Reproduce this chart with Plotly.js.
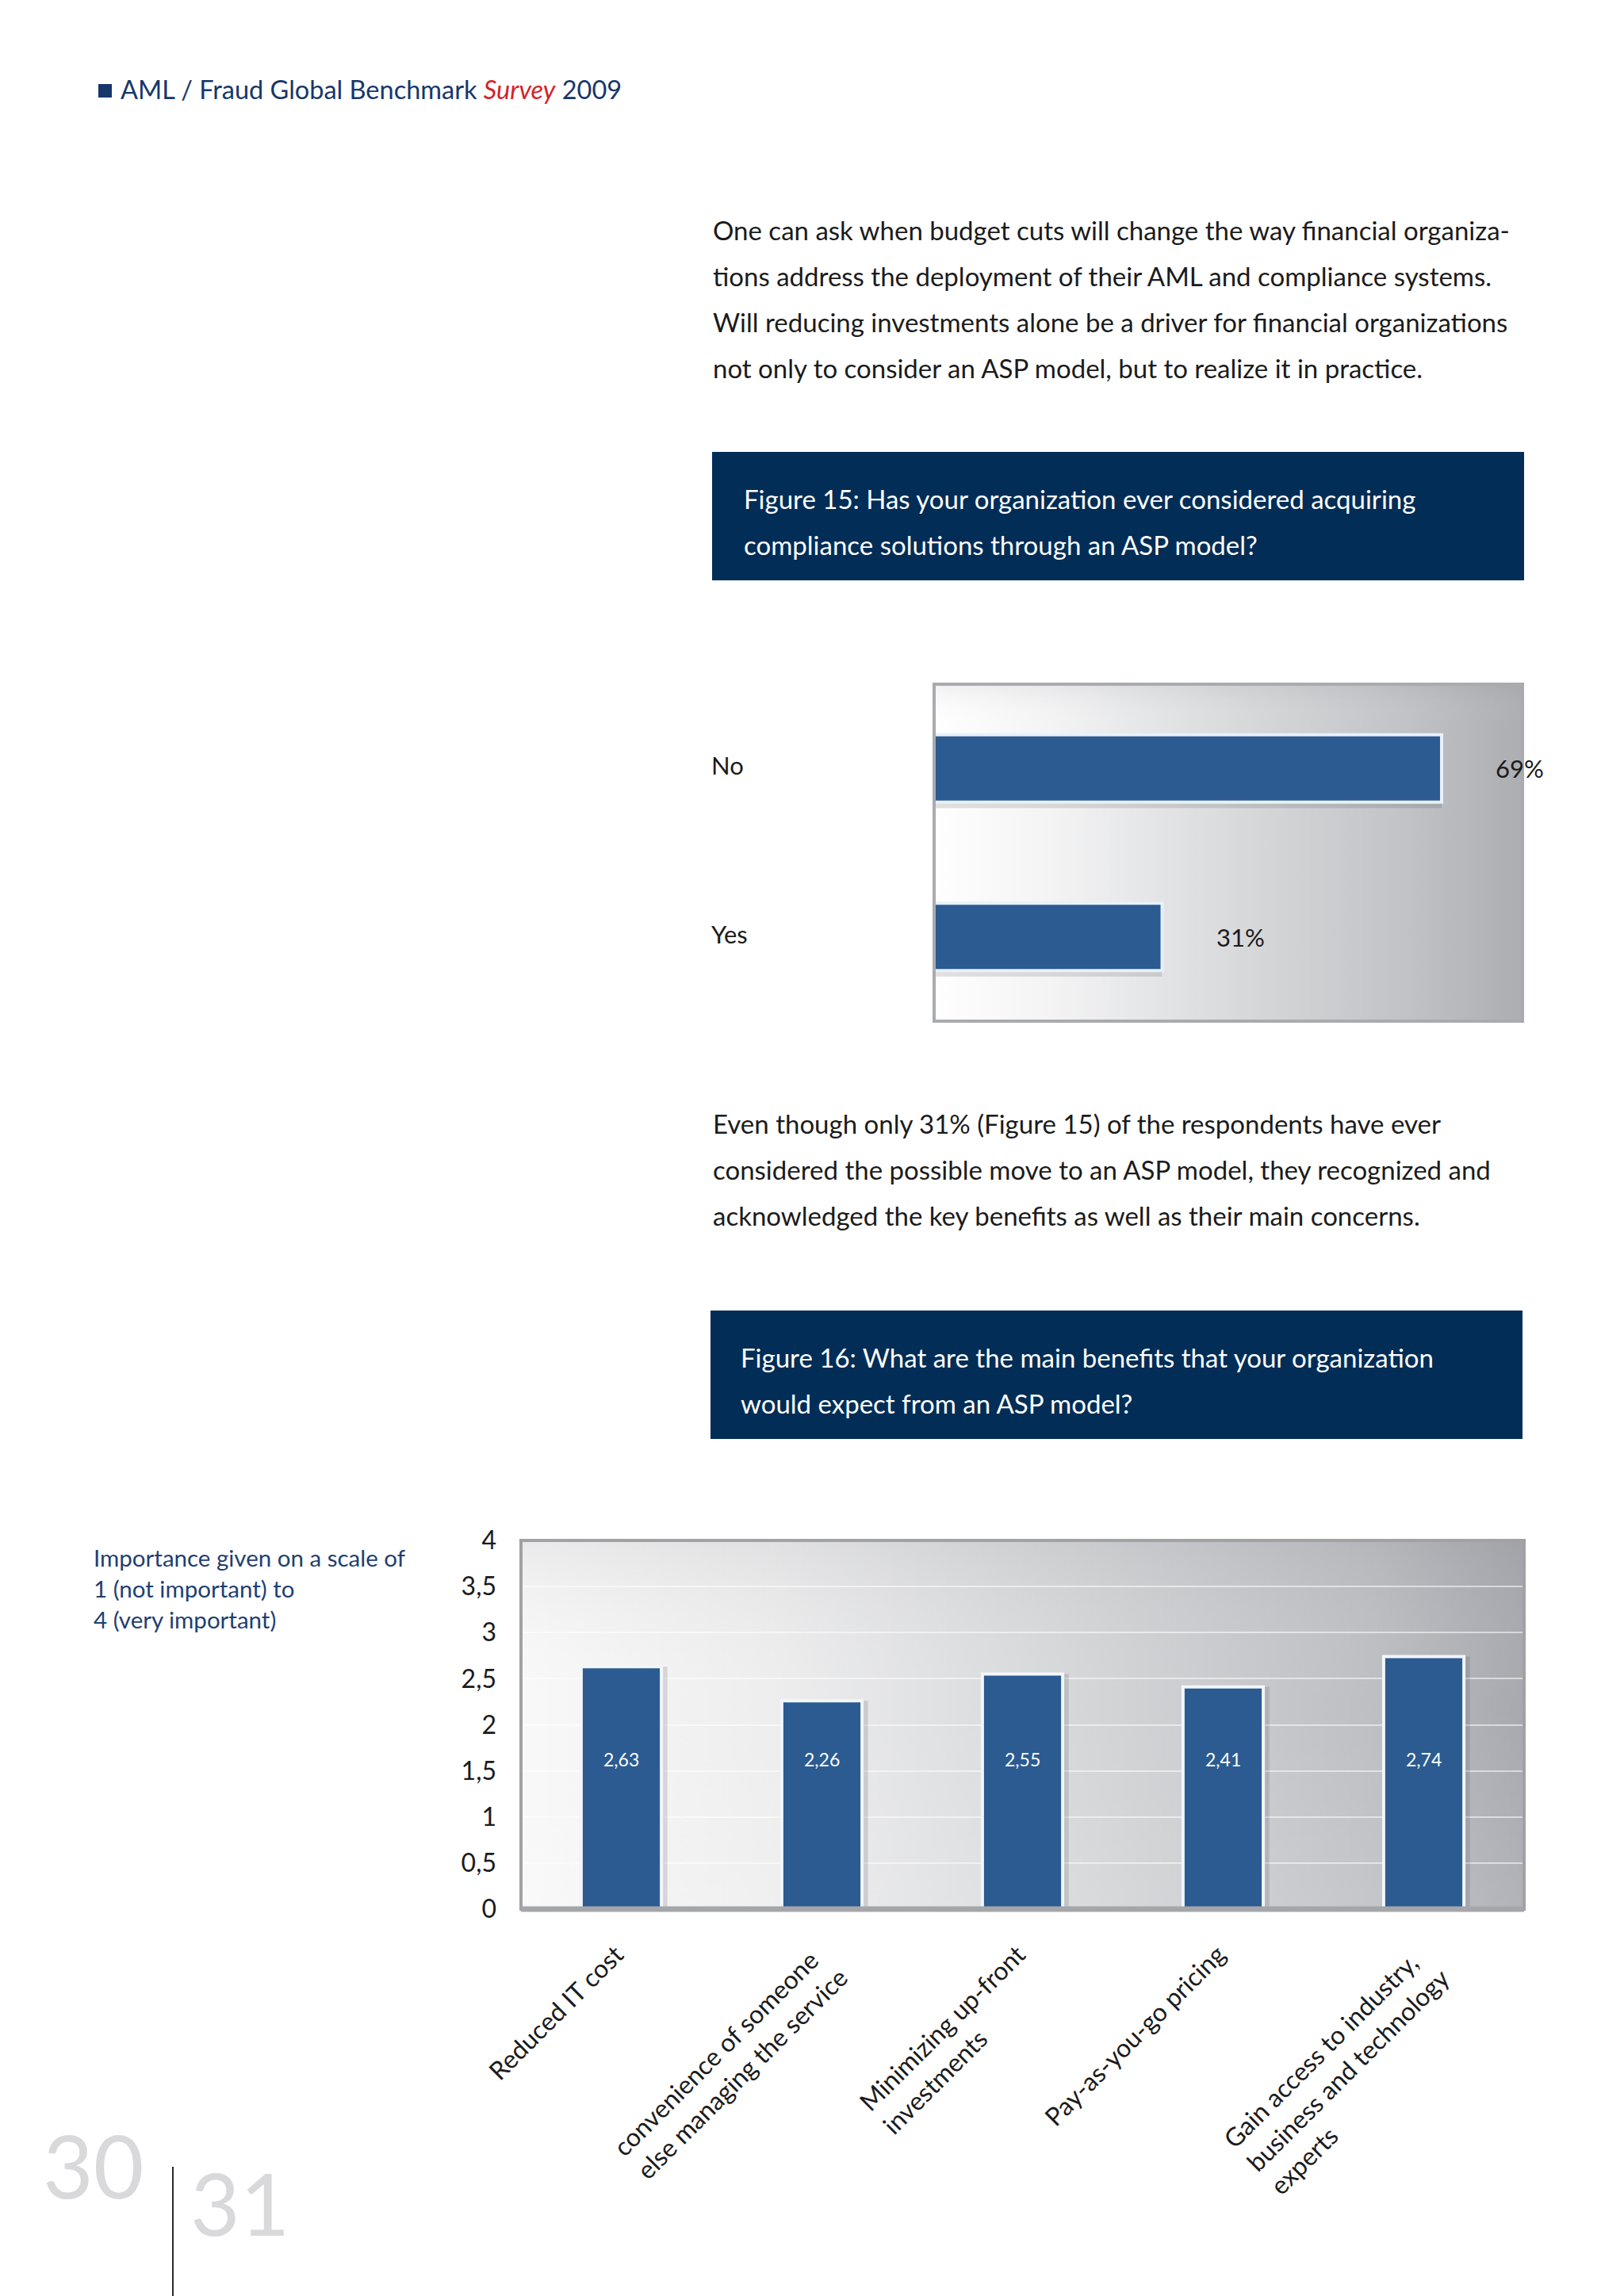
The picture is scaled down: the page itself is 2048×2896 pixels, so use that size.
<!DOCTYPE html>
<html>
<head>
<meta charset="utf-8">
<script src="https://cdn.plot.ly/plotly-3.0.1.min.js"></script>
<style>
html,body{margin:0;padding:0;background:#fff;}
#chart{width:2048px;height:2896px;}
</style>
</head>
<body>
<div id="chart"></div>
<script>
// ---------- DATA ----------
const aspCategories = ['No', 'Yes'];
const aspValues = [69, 31];

const benefitCategories = ['Reduced IT cost', 'convenience of someone<br>else managing the service', 'Minimizing up-front<br>investments', 'Pay-as-you-go pricing', 'Gain access to industry,<br>business and technology<br>experts'];
const benefitValues = [2.63, 2.26, 2.55, 2.41, 2.74];

const yTickValues = [0, 0.5, 1, 1.5, 2, 2.5, 3, 3.5, 4];
const yTickLabels = ['0', '0,5', '1', '1,5', '2', '2,5', '3', '3,5', '4'];

const headerText = 'AML / Fraud Global Benchmark <i><span style="color:#d2232a">Survey</span></i> 2009';
const paragraph1 = [
  'One can ask when budget cuts will change the way financial organiza-',
  'tions address the deployment of their AML and compliance systems.',
  'Will reducing investments alone be a driver for financial organizations',
  'not only to consider an ASP model, but to realize it in practice.'
];
const figure15Title = ['Figure 15: Has your organization ever considered acquiring', 'compliance solutions through an ASP model?'];
const paragraph2 = [
  'Even though only 31% (Figure 15) of the respondents have ever',
  'considered the possible move to an ASP model, they recognized and',
  'acknowledged the key benefits as well as their main concerns.'
];
const figure16Title = ['Figure 16: What are the main benefits that your organization', 'would expect from an ASP model?'];
const scaleNote = ['Importance given on a scale of', '1 (not important) to', '4 (very important)'];
const pageLeft = '30';
const pageRight = '31';

// ---------- HELPERS ----------
const W = 2048, H = 2896;
const px = v => v / W;
const py = v => 1 - v / H;
const FONT = 'Lato, "Open Sans", sans-serif';
const NAVY = '#022d56';
const BAR = '#2b5b91';
const BODY = 33;

function makeGradient(stops, vstops) {
  const c = document.createElement('canvas');
  c.width = 600; c.height = 300;
  const g = c.getContext('2d');
  const lg = g.createLinearGradient(0, 0, c.width, 0);
  stops.forEach(s => lg.addColorStop(s[0], s[1]));
  g.fillStyle = lg; g.fillRect(0, 0, c.width, c.height);
  if (vstops) {
    const vg = g.createLinearGradient(0, 0, 0, c.height);
    vstops.forEach(s => vg.addColorStop(s[0], s[1]));
    g.fillStyle = vg; g.fillRect(0, 0, c.width, c.height);
  }
  return c.toDataURL('image/png');
}

const grad1 = makeGradient([[0, '#ffffff'], [0.2, '#f4f4f5'], [0.5, '#dadbdd'], [0.8, '#c1c3c6'], [1, '#acaeb2']],
  [[0, 'rgba(120,120,125,0.10)'], [0.12, 'rgba(255,255,255,0)'], [1, 'rgba(255,255,255,0)']]);
const grad2 = makeGradient([[0, '#f9f9f9'], [0.25, '#eeeeef'], [0.55, '#d6d7d9'], [0.85, '#bdbfc3'], [1, '#a7a9ae']],
  [[0, 'rgba(110,110,115,0.10)'], [0.45, 'rgba(255,255,255,0)'], [1, 'rgba(255,255,255,0.12)']]);

const annotations = [];
function txt(x, y, text, size, color, extra) {
  annotations.push(Object.assign({
    xref: 'paper', yref: 'paper', x: px(x), y: py(y), text: text,
    showarrow: false, xanchor: 'left', yanchor: 'middle', align: 'left',
    font: {family: FONT, size: size, color: color}
  }, extra || {}));
}

// header
txt(150, 112, headerText, 32.5, '#17376b');
// paragraph 1
paragraph1.forEach((l, i) => txt(897, 290 + i * 58, l, BODY, '#1b1b1b'));
// figure 15 title
figure15Title.forEach((l, i) => txt(936, 629 + i * 58, l, BODY, '#ffffff'));
// paragraph 2
paragraph2.forEach((l, i) => txt(897, 1417 + i * 58, l, BODY, '#1b1b1b'));
// figure 16 title
figure16Title.forEach((l, i) => txt(932, 1712 + i * 58, l, BODY, '#ffffff'));
// scale note
scaleNote.forEach((l, i) => txt(116, 1964 + i * 39, l, 29.5, '#1f3f73'));
// page numbers
txt(52, 2730, pageLeft, 110, '#d9d9db');
txt(238, 2778, pageRight, 108, '#d9d9db');

// chart 1 category labels and value labels
aspCategories.forEach((c, i) => {
  annotations.push({xref: 'paper', yref: 'y', x: px(895), y: c, text: c, showarrow: false,
    xanchor: 'left', yanchor: 'middle', yshift: 4, font: {family: FONT, size: 31, color: '#1b1b1b'}});
  annotations.push({xref: 'x', yref: 'y', x: aspValues[i], y: c, text: aspValues[i] + '%', showarrow: false,
    xanchor: 'left', yanchor: 'middle', xshift: 66, font: {family: FONT, size: 31, color: '#1b1b1b'}});
});

// chart 2 value labels and rotated category labels
const LABEL_SIZE = 32;
benefitCategories.forEach((c, i) => {
  annotations.push({xref: 'x2', yref: 'y2', x: c, y: 1.63, text: benefitValues[i].toFixed(2).replace('.', ','),
    showarrow: false, xanchor: 'center', yanchor: 'middle', font: {family: FONT, size: 23, color: '#ffffff'}});
  const nLines = c.split('<br>').length;
  annotations.push({xref: 'x2', yref: 'y2', x: c, y: 0, text: c, showarrow: false, textangle: -45,
    align: 'left', xanchor: 'right', yanchor: 'top', yshift: -34,
    xshift: 0.707 * nLines * LABEL_SIZE * 1.3 - 16,
    font: {family: FONT, size: LABEL_SIZE, color: '#1b1b1b'}});
});

// ---------- TRACES ----------
const traces = [
  {type: 'bar', orientation: 'h', x: aspValues, y: aspCategories, xaxis: 'x', yaxis: 'y',
   width: 0.4, offset: -0.165, marker: {color: 'rgba(40,40,50,0.14)', line: {width: 0}}, hoverinfo: 'skip'},
  {type: 'bar', orientation: 'h', x: aspValues, y: aspCategories, xaxis: 'x', yaxis: 'y',
   width: 0.4, marker: {color: BAR, line: {color: '#e8f0fa', width: 4}}},
  {type: 'bar', x: benefitCategories, y: benefitValues, xaxis: 'x2', yaxis: 'y2',
   width: 0.4, offset: -0.17, marker: {color: 'rgba(40,40,50,0.14)', line: {width: 0}}, hoverinfo: 'skip'},
  {type: 'bar', x: benefitCategories, y: benefitValues, xaxis: 'x2', yaxis: 'y2',
   width: 0.4, marker: {color: BAR, line: {color: '#f2f6fb', width: 4}}}
];

// ---------- SHAPES ----------
const shapes = [
  // header bullet
  {type: 'rect', xref: 'paper', yref: 'paper', x0: px(124), x1: px(141), y0: py(123), y1: py(106), fillcolor: '#17376b', line: {width: 0}},
  // figure boxes
  {type: 'rect', xref: 'paper', yref: 'paper', x0: px(898), x1: px(1922), y0: py(732), y1: py(570), fillcolor: NAVY, line: {width: 0}},
  {type: 'rect', xref: 'paper', yref: 'paper', x0: px(896), x1: px(1920), y0: py(1815), y1: py(1653), fillcolor: NAVY, line: {width: 0}},
  // chart borders
  {type: 'rect', xref: 'x domain', yref: 'y domain', x0: 0, x1: 1, y0: 0, y1: 1, line: {color: '#a9abae', width: 4}, layer: 'above'},
  {type: 'rect', xref: 'x2 domain', yref: 'y2 domain', x0: 0, x1: 1, y0: 0, y1: 1, line: {color: '#a0a2a5', width: 4}, layer: 'above'},
  {type: 'line', xref: 'x2 domain', yref: 'y2 domain', x0: 0, x1: 1, y0: 0, y1: 0, line: {color: '#a4a6a9', width: 7}, layer: 'above'},
  // page divider
  {type: 'line', xref: 'paper', yref: 'paper', x0: px(218), x1: px(218), y0: py(2733), y1: 0, line: {color: '#2a2a2a', width: 2}}
];

const layout = {
  width: W, height: H,
  margin: {l: 0, r: 0, t: 0, b: 0},
  paper_bgcolor: '#ffffff', plot_bgcolor: 'rgba(0,0,0,0)',
  showlegend: false, barmode: 'overlay', separators: ', ',
  font: {family: FONT},
  xaxis: {domain: [px(1178), px(1920)], range: [0, 80], showgrid: false, zeroline: false,
          showticklabels: false, showline: false, fixedrange: true},
  yaxis: {domain: [py(1288), py(863)], type: 'category', categoryarray: aspCategories, categoryorder: 'array',
          range: [1.5, -0.5], showgrid: false, zeroline: false, showticklabels: false, showline: false},
  xaxis2: {domain: [px(657), px(1922)], type: 'category', range: [-0.5, 4.5], showgrid: false,
           zeroline: false, showticklabels: false, showline: false, anchor: 'y2'},
  yaxis2: {domain: [py(2408), py(1943)], range: [0, 4], tickvals: yTickValues, ticktext: yTickLabels,
           showgrid: true, gridcolor: 'rgba(255,255,255,0.55)', gridwidth: 2, zeroline: false,
           ticks: '', ticklabelstandoff: 30, tickfont: {family: FONT, size: 32, color: '#1b1b1b'},
           showline: false, anchor: 'x2'},
  images: [
    {source: grad1, xref: 'x domain', yref: 'y domain', x: 0, y: 1, sizex: 1, sizey: 1,
     sizing: 'stretch', layer: 'below', xanchor: 'left', yanchor: 'top'},
    {source: grad2, xref: 'x2 domain', yref: 'y2 domain', x: 0, y: 1, sizex: 1, sizey: 1,
     sizing: 'stretch', layer: 'below', xanchor: 'left', yanchor: 'top'}
  ],
  shapes: shapes,
  annotations: annotations
};

Plotly.newPlot('chart', traces, layout, {staticPlot: true, displayModeBar: false});
</script>
</body>
</html>
